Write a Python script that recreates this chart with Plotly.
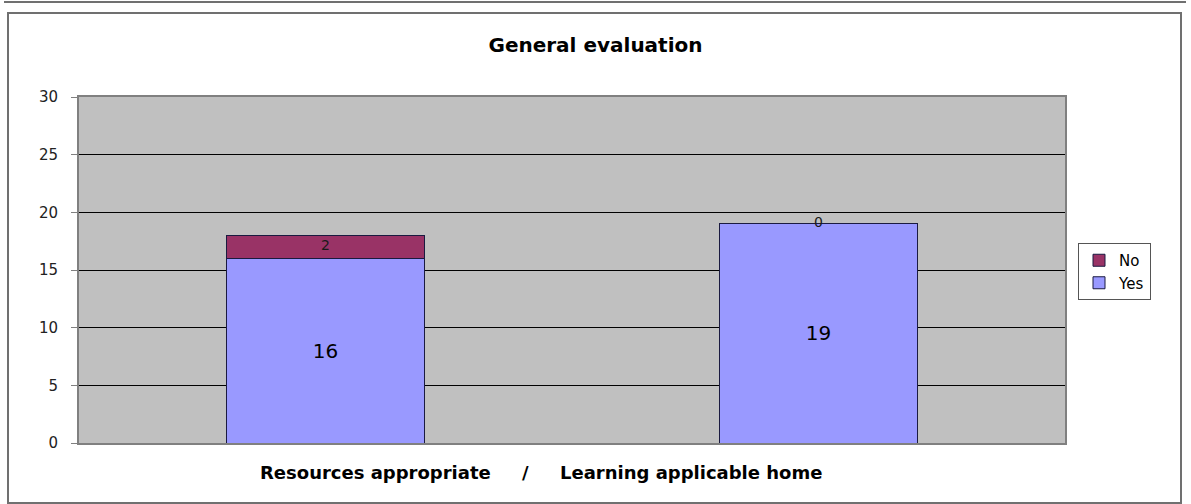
import plotly.graph_objects as go

categories = ["Resources appropriate", "Learning applicable home"]
yes_values = [16, 19]
no_values = [2, 0]
y_ticks = [0, 5, 10, 15, 20, 25, 30]
chart_title = "General evaluation"
x_title = "Resources appropriate&nbsp;&nbsp;&nbsp;&nbsp;&nbsp;/&nbsp;&nbsp;&nbsp;&nbsp;&nbsp;Learning applicable home"

FONT = "Comic Sans MS, DejaVu Sans, sans-serif"

fig = go.Figure()
fig.add_trace(go.Bar(
    name="Yes", x=categories, y=yes_values,
    marker=dict(color="#9999FF", line=dict(color="#1a1a40", width=1)),
    text=[str(v) for v in yes_values], textposition="inside",
    insidetextanchor="middle",
    textfont=dict(size=20, color="#000000", family=FONT),
    hoverinfo="x+y+name",
))
fig.add_trace(go.Bar(
    name="No", x=categories, y=no_values,
    marker=dict(color="#993366", line=dict(color="#1a1a40", width=1)),
    hoverinfo="x+y+name",
))
# labels for the "No" segments, centred on each segment
fig.add_trace(go.Scatter(
    x=categories, y=[y + n / 2 for y, n in zip(yes_values, no_values)],
    mode="text", text=[str(v) for v in no_values],
    textfont=dict(size=14, color="#1a1a1a", family=FONT),
    showlegend=False, hoverinfo="skip",
))

L, R, T, B = 79, 1065, 97, 443
W, H = 1191, 504
def px(x):
    return (x - L) / (R - L)
def py(y):
    return (B - y) / (B - T)

fig.update_layout(
    width=W, height=H,
    margin=dict(l=L, r=W - R, t=T, b=H - B, pad=0),
    barmode="stack", bargap=0.6,
    plot_bgcolor="#C0C0C0", paper_bgcolor="#FFFFFF",
    font=dict(family=FONT, color="#000000"),
    title=dict(text="<b>" + chart_title + "</b>", x=0.5, xref="container", xanchor="center",
               y=1 - 45 / H, yanchor="middle", font=dict(size=20, family=FONT)),
    showlegend=True,
    legend=dict(x=px(1078), y=py(243), xanchor="left", yanchor="top",
                bordercolor="#555555", borderwidth=1, bgcolor="#FFFFFF",
                traceorder="reversed", font=dict(size=15, family=FONT),
                itemwidth=30, tracegroupgap=0),
    annotations=[
        dict(text="<b>" + x_title + "</b>", xref="paper", yref="paper",
             x=px(541), y=py(472), xanchor="center", yanchor="middle",
             showarrow=False, font=dict(size=18, family=FONT)),
    ],
    shapes=[
        dict(type="rect", xref="paper", yref="paper", x0=px(8), x1=px(1181), y0=py(503), y1=py(13),
             line=dict(color="#707070", width=2), fillcolor="rgba(0,0,0,0)", layer="below"),
        dict(type="line", xref="paper", yref="paper", x0=px(4), x1=px(1186), y0=py(2), y1=py(2),
             line=dict(color="#707070", width=2)),
    ],
)
fig.update_xaxes(
    type="category", showticklabels=False, ticks="",
    showline=True, linecolor="#808080", linewidth=2, mirror=True,
)
fig.update_yaxes(
    range=[0, 30], tickvals=y_ticks, ticks="outside", ticklen=6, tickcolor="#808080",
    tickfont=dict(size=15, family=FONT, color="#222222"), ticklabelstandoff=10,
    showgrid=True, gridcolor="#000000", gridwidth=1, zeroline=False,
    showline=True, linecolor="#808080", linewidth=2, mirror=True,
)

fig.write_html(
    "out.html",
    config={"displayModeBar": False},
    post_script="document.body.style.margin='0';document.body.style.overflow='hidden';",
)
